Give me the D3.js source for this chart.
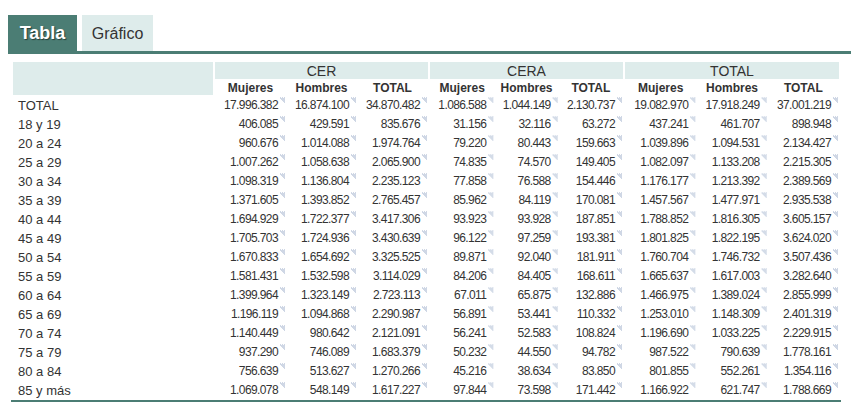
<!DOCTYPE html>
<html>
<head>
<meta charset="utf-8">
<script src="https://cdn.jsdelivr.net/npm/d3@7"></script>
<style>
  body { margin: 0; background: #fff; }
  svg { display: block; font-family: "Liberation Sans", Arial, sans-serif; }
</style>
</head>
<body>
<svg id="chart"></svg>
<script>
// ---- Data ----
const tabs = ['Tabla', 'Gráfico'];
const groups = ['CER', 'CERA', 'TOTAL'];
const subCols = ['Mujeres', 'Hombres', 'TOTAL'];
const rowLabels = ['TOTAL', '18 y 19', '20 a 24', '25 a 29', '30 a 34', '35 a 39', '40 a 44',
  '45 a 49', '50 a 54', '55 a 59', '60 a 64', '65 a 69', '70 a 74', '75 a 79', '80 a 84', '85 y más'];

const cerMujeres = [17996382, 406085, 960676, 1007262, 1098319, 1371605, 1694929, 1705703,
  1670833, 1581431, 1399964, 1196119, 1140449, 937290, 756639, 1069078];
const cerHombres = [16874100, 429591, 1014088, 1058638, 1136804, 1393852, 1722377, 1724936,
  1654692, 1532598, 1323149, 1094868, 980642, 746089, 513627, 548149];
const cerTotal = [34870482, 835676, 1974764, 2065900, 2235123, 2765457, 3417306, 3430639,
  3325525, 3114029, 2723113, 2290987, 2121091, 1683379, 1270266, 1617227];
const ceraMujeres = [1086588, 31156, 79220, 74835, 77858, 85962, 93923, 96122,
  89871, 84206, 67011, 56891, 56241, 50232, 45216, 97844];
const ceraHombres = [1044149, 32116, 80443, 74570, 76588, 84119, 93928, 97259,
  92040, 84405, 65875, 53441, 52583, 44550, 38634, 73598];
const ceraTotal = [2130737, 63272, 159663, 149405, 154446, 170081, 187851, 193381,
  181911, 168611, 132886, 110332, 108824, 94782, 83850, 171442];
const totMujeres = [19082970, 437241, 1039896, 1082097, 1176177, 1457567, 1788852, 1801825,
  1760704, 1665637, 1466975, 1253010, 1196690, 987522, 801855, 1166922];
const totHombres = [17918249, 461707, 1094531, 1133208, 1213392, 1477971, 1816305, 1822195,
  1746732, 1617003, 1389024, 1148309, 1033225, 790639, 552261, 621747];
const totTotal = [37001219, 898948, 2134427, 2215305, 2389569, 2935538, 3605157, 3624020,
  3507436, 3282640, 2855999, 2401319, 2229915, 1778161, 1354116, 1788669];

const series = {
  CER: [cerMujeres, cerHombres, cerTotal],
  CERA: [ceraMujeres, ceraHombres, ceraTotal],
  TOTAL: [totMujeres, totHombres, totTotal]
};

// ---- Layout ----
const width = 851, height = 413;
const teal = '#4b7d74', light = '#deeceb', ink = '#333';

const svg = d3.select('#chart').attr('width', width).attr('height', height);

// Spanish number format: dot thousands
const fmt = d3.formatLocale({ decimal: ',', thousands: '.', grouping: [3], currency: ['', '€'] }).format(',d');

// ---- Tabs ----
const tabX = d3.scaleOrdinal(tabs, [8, 82]);
const tabW = d3.scaleOrdinal(tabs, [69, 71]);
const tabG = svg.append('g');
tabG.selectAll('rect').data(tabs).join('rect')
  .attr('x', d => tabX(d)).attr('y', 15)
  .attr('width', d => tabW(d)).attr('height', 37)
  .attr('fill', (d, i) => i === 0 ? teal : light);
tabG.selectAll('text').data(tabs).join('text')
  .attr('x', d => tabX(d) + tabW(d) / 2).attr('y', 39)
  .attr('text-anchor', 'middle')
  .attr('font-size', (d, i) => i === 0 ? 18 : 16)
  .attr('font-weight', (d, i) => i === 0 ? 'bold' : 'normal')
  .attr('fill', (d, i) => i === 0 ? '#fff' : ink)
  .style('text-shadow', (d, i) => i === 0 ? '1px 1px 1px rgba(0,0,0,0.5)' : null)
  .text(d => d);
svg.append('rect').attr('x', 8).attr('y', 51).attr('width', width - 8).attr('height', 3).attr('fill', teal);

// ---- Scales ----
const groupRange = d3.scaleOrdinal(groups, [[215, 428], [430, 623], [625, 839]]);
const colScale = {};
groups.forEach(g => { colScale[g] = d3.scaleBand().domain(subCols).range(groupRange(g)); });

const y = d3.scaleBand().domain(rowLabels).range([95, 95 + 19 * rowLabels.length]);

// ---- Header ----
const head = svg.append('g');
head.append('rect').attr('x', 13).attr('y', 62).attr('width', 200).attr('height', 33).attr('fill', light);
head.selectAll('rect.grp').data(groups).join('rect').attr('class', 'grp')
  .attr('x', g => groupRange(g)[0]).attr('y', 62)
  .attr('width', g => groupRange(g)[1] - groupRange(g)[0]).attr('height', 17)
  .attr('fill', light);
head.selectAll('text.grp').data(groups).join('text').attr('class', 'grp')
  .attr('x', g => (groupRange(g)[0] + groupRange(g)[1]) / 2).attr('y', 75.5)
  .attr('text-anchor', 'middle').attr('font-size', 14).attr('fill', ink)
  .text(g => g);

groups.forEach(g => {
  head.append('g').selectAll('text').data(subCols).join('text')
    .attr('x', c => colScale[g](c) + colScale[g].bandwidth() / 2).attr('y', 92)
    .attr('text-anchor', 'middle').attr('font-size', 12).attr('font-weight', 'bold').attr('fill', ink)
    .text(c => c);
});

// ---- Body ----
const body = svg.append('g');
body.selectAll('text.lbl').data(rowLabels).join('text').attr('class', 'lbl')
  .attr('x', 18).attr('y', d => y(d) + y.bandwidth() / 2 + 5)
  .attr('font-size', 13).attr('fill', ink)
  .text(d => d);

// small dotted note marker drawn after each value
const markerDots = [[0, 0], [2, 0], [4, 0], [1, 1], [3, 1], [2, 2], [4, 2], [3, 3], [4, 4]];

groups.forEach(g => {
  subCols.forEach((c, ci) => {
    const right = colScale[g](c) + colScale[g].bandwidth() - 8;
    const vals = series[g][ci];
    const cell = body.append('g').selectAll('g').data(vals).join('g')
      .attr('transform', (v, i) => `translate(${right},${y(rowLabels[i]) + y.bandwidth() / 2})`);
    cell.append('text')
      .attr('x', 0).attr('y', 4.5)
      .attr('text-anchor', 'end').attr('font-size', 12).attr('fill', ink)
      .attr('letter-spacing', -0.6)
      .text(v => fmt(v));
    cell.selectAll('rect').data(markerDots).join('rect')
      .attr('x', d => 2 + d[0]).attr('y', d => -7 + d[1])
      .attr('width', 1).attr('height', 1)
      .attr('fill', '#9fb0cc');
  });
});

// bottom rule
svg.append('rect').attr('x', 11).attr('y', y.range()[1] + 1).attr('width', 830).attr('height', 2).attr('fill', teal);
</script>
</body>
</html>
